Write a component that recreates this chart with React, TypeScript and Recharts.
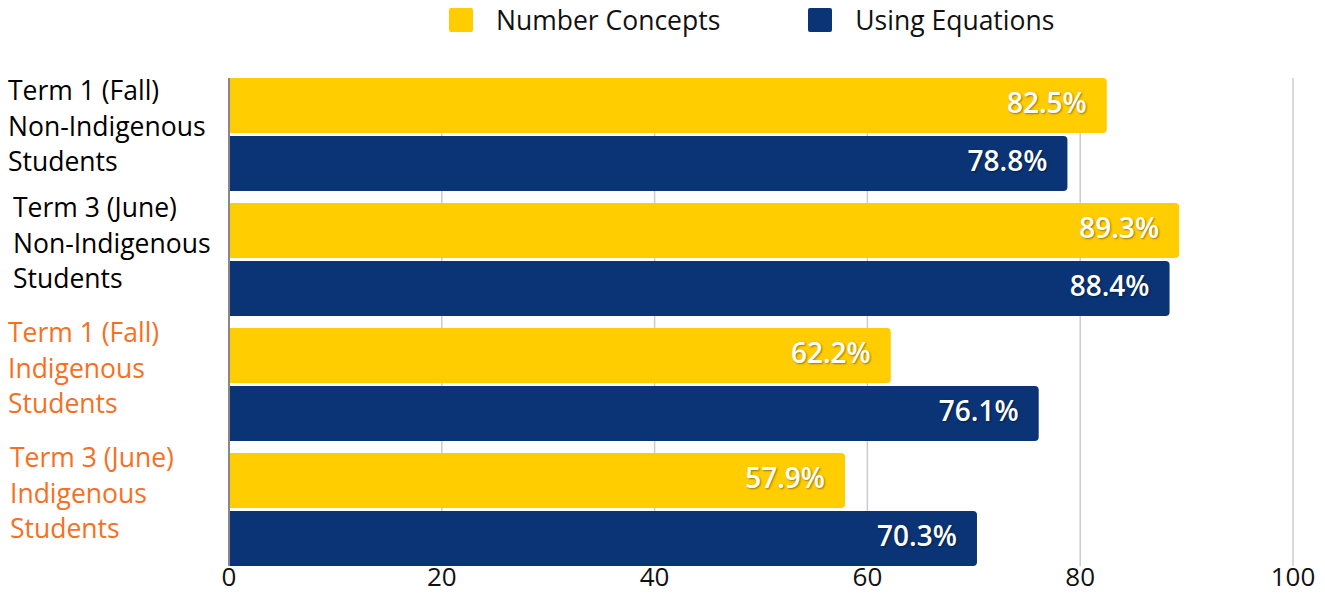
import React from "react";
import { BarChart, Bar, XAxis, YAxis, CartesianGrid, Legend, LabelList } from "recharts";

const categories = [
  "Term 1 (Fall)\nNon-Indigenous\nStudents",
  "Term 3 (June)\nNon-Indigenous\nStudents",
  "Term 1 (Fall)\nIndigenous\nStudents",
  "Term 3 (June)\nIndigenous\nStudents",
];
const indigenousGroup = [false, false, true, true];
const numberConcepts = [82.5, 89.3, 62.2, 57.9];
const usingEquations = [78.8, 88.4, 76.1, 70.3];
const xTicks = [0, 20, 40, 60, 80, 100];
const seriesNames = ["Number Concepts", "Using Equations"];

const YELLOW = "#ffcd00";
const NAVY = "#0a3475";
const ORANGE = "#f6701f";
const FONT = "'Open Sans', sans-serif";

const data = categories.map((name, i) => ({
  name,
  indigenous: indigenousGroup[i],
  nc: numberConcepts[i],
  ue: usingEquations[i],
}));

const CategoryTick = (props: any) => {
  const { y, payload, index } = props;
  const lines: string[] = String(payload.value).split("\n");
  const color = indigenousGroup[index] ? ORANGE : "#000";
  const lh = 35.5;
  const shiftY = index === 0 ? -8 : -16;
  const left = index === 1 ? 13 : index === 3 ? 10 : 8;
  const center = y + shiftY;
  return (
    <text x={left} y={center} fill={color} fontSize={26.5} fontFamily={FONT} textAnchor="start">
      {lines.map((l, i) => (
        <tspan key={i} x={left} y={center + (i - (lines.length - 1) / 2) * lh + 9}>
          {l}
        </tspan>
      ))}
    </text>
  );
};

const ValueLabel = (props: any) => {
  const { x, y, width, height, value } = props;
  return (
    <text
      x={x + width - 20}
      y={y + height / 2 + 7}
      textAnchor="end"
      fill="#fff"
      fontSize={28}
      fontWeight={650}
      fontFamily={FONT}
      style={{ textShadow: "1px 1px 2px rgba(0,0,0,0.4)" }}
    >
      {`${value}%`}
    </text>
  );
};

const LegendContent = () => (
  <div style={{ display: "flex", alignItems: "center", paddingLeft: 449, height: 40, fontFamily: FONT, fontSize: 26.5 }}>
    {[YELLOW, NAVY].map((c, i) => (
      <div key={i} style={{ display: "flex", alignItems: "center", marginRight: i === 0 ? 88 : 0 }}>
        <div style={{ width: 24, height: 24, background: c, borderRadius: 2, marginRight: 23 }} />
        <span style={{ color: "#111", lineHeight: "40px" }}>{seriesNames[i]}</span>
      </div>
    ))}
  </div>
);

export default function App() {
  return (
    <div style={{ position: "absolute", left: 0, top: 0, width: 1325, height: 594, background: "#fff" }}>
      <BarChart
        width={1325}
        height={594}
        data={data}
        layout="vertical"
        margin={{ top: 38, right: 32, bottom: 0, left: 0 }}
        barSize={55}
        barGap={3}
      >
        <CartesianGrid horizontal={false} vertical={true} stroke="#cccccc" strokeWidth={1.5} />
        <XAxis
          type="number"
          domain={[0, 100]}
          ticks={xTicks}
          axisLine={false}
          tickLine={false}
          tickSize={0}
          tickMargin={2}
          height={28}
          tick={{ fill: "#111", fontSize: 26, fontFamily: FONT }}
          interval={0}
        />
        <YAxis
          type="category"
          dataKey="name"
          width={229}
          axisLine={{ stroke: "#888", strokeWidth: 2 }}
          tickLine={false}
          tick={<CategoryTick />}
          interval={0}
          padding={{ top: -6, bottom: -6 }}
        />
        <Legend verticalAlign="top" content={<LegendContent />} wrapperStyle={{ top: 0, left: 0, width: 1325, height: 40 }} />
        <Bar dataKey="nc" name={seriesNames[0]} fill={YELLOW} radius={[0, 4, 4, 0]} isAnimationActive={false}>
          <LabelList dataKey="nc" content={<ValueLabel />} />
        </Bar>
        <Bar dataKey="ue" name={seriesNames[1]} fill={NAVY} radius={[0, 4, 4, 0]} isAnimationActive={false}>
          <LabelList dataKey="ue" content={<ValueLabel />} />
        </Bar>
      </BarChart>
    </div>
  );
}
